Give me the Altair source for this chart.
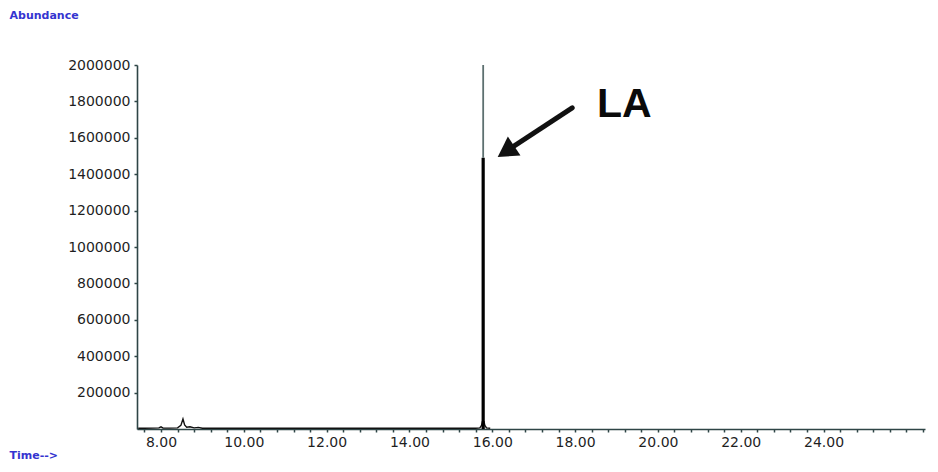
import altair as alt
import pandas as pd
import numpy as np

# Chromatogram trace (baseline + small early peaks + base of LA peak)
trace_time = [7.45, 7.6, 7.8, 7.95, 8.0, 8.05, 8.2, 8.4, 8.48, 8.53, 8.57, 8.62, 8.7, 8.8, 8.9, 9.0, 9.2,
              15.6, 15.7, 15.74, 15.76, 15.8, 15.82, 15.86, 15.95]
trace_abund = [4000, 4000, 5000, 6000, 12000, 5000, 5000, 6000, 20000, 55000, 22000, 10000, 12000, 6000, 9000, 4000, 4000,
               4000, 6000, 20000, 40000, 40000, 20000, 6000, 4000]

# LA peak (off-scale): solid body and thin overflow part
peak_time = [15.78]
peak_body = [1490000]
peak_top = [2000000]

# Annotation
label_text = ["LA"]
label_time = [18.53]
label_abund = [1714000]
arrow_from_time = [17.93]
arrow_from_abund = [1764000]
arrow_head_time = [16.33]
arrow_head_abund = [1525000]

# Axis ticks
y_ticks = [200000, 400000, 600000, 800000, 1000000, 1200000, 1400000, 1600000, 1800000, 2000000]
x_ticks = [round(v, 1) for v in np.arange(7.6, 26.41, 0.4)]

x_dom = [7.42, 26.45]
y_dom = [0, 2000000]

axis_col = "#2e4546"
lab_font = "DejaVu Sans"

x_axis = alt.Axis(values=x_ticks,
                  labelExpr="abs(datum.value - round(datum.value/2)*2) < 0.01 && datum.value <= 24.01 ? format(datum.value, '.2f') : ''",
                  title="Time-->", titleX=-128, titleY=26, titleAlign="left", titleBaseline="middle",
                  titleColor="#3434d0", titleFont=lab_font, titleFontSize=11, titleFontWeight="bold",
                  labelFont=lab_font, labelFontSize=14, labelColor="#1f1f1f", labelPadding=3,
                  domainColor=axis_col, domainWidth=1.6, tickColor=axis_col, tickSize=3, tickWidth=1.5,
                  grid=False, labelOverlap=False, labelFlush=False)
y_axis = alt.Axis(values=y_ticks, format="d",
                  title="Abundance", titleAngle=0, titleX=-128, titleY=-50, titleAlign="left", titleBaseline="middle",
                  titleColor="#3434d0", titleFont=lab_font, titleFontSize=11, titleFontWeight="bold",
                  labelFont=lab_font, labelFontSize=14, labelColor="#1f1f1f", labelPadding=4,
                  domainColor=axis_col, domainWidth=1.6, tickColor=axis_col, tickSize=3, tickWidth=1.5,
                  grid=False, labelOverlap=False)

xs = alt.Scale(domain=x_dom, nice=False, zero=False)
ys = alt.Scale(domain=y_dom, nice=False)

trace_df = pd.DataFrame({"time": trace_time, "abundance": trace_abund})
peak_df = pd.DataFrame({"time": peak_time, "body": peak_body, "top": peak_top})
label_df = pd.DataFrame({"label": label_text, "time": label_time, "abundance": label_abund})
arrow_df = pd.DataFrame({"time": arrow_from_time, "abundance": arrow_from_abund,
                         "time2": arrow_head_time, "abundance2": arrow_head_abund})

trace = alt.Chart(trace_df).mark_line(color="#111111", strokeWidth=1.4).encode(
    x=alt.X("time:Q", scale=xs, axis=x_axis),
    y=alt.Y("abundance:Q", scale=ys, axis=y_axis),
)

peak_thin = alt.Chart(peak_df).mark_rule(color="#5d7070", strokeWidth=1.8).encode(
    x=alt.X("time:Q", scale=xs, axis=x_axis),
    y=alt.Y("body:Q", scale=ys, axis=y_axis),
    y2="top:Q",
)
peak_thick = alt.Chart(peak_df).mark_rule(color="#000000", strokeWidth=3.2).encode(
    x=alt.X("time:Q", scale=xs, axis=x_axis),
    y=alt.Y("body:Q", scale=ys, axis=y_axis),
    y2=alt.datum(0),
)

shaft = alt.Chart(arrow_df).mark_rule(color="#111111", strokeWidth=5, strokeCap="round").encode(
    x=alt.X("time:Q", scale=xs, axis=x_axis),
    y=alt.Y("abundance:Q", scale=ys, axis=y_axis),
    x2="time2:Q",
    y2="abundance2:Q",
)
head = alt.Chart(arrow_df).mark_point(shape="triangle-up", filled=True, color="#111111",
                                      size=520, angle=236.5, opacity=1).encode(
    x=alt.X("time2:Q", scale=xs, axis=x_axis),
    y=alt.Y("abundance2:Q", scale=ys, axis=y_axis),
)

label = alt.Chart(label_df).mark_text(font="Liberation Sans", fontSize=41, fontWeight="bold",
                                      align="left", baseline="alphabetic", color="#0a0a0a").encode(
    x=alt.X("time:Q", scale=xs, axis=x_axis),
    y=alt.Y("abundance:Q", scale=ys, axis=y_axis),
    text="label:N",
)

chart = alt.layer(trace, peak_thick, peak_thin, shaft, head, label).properties(
    width=788, height=364,
    autosize=alt.AutoSizeParams(type="none"),
    padding={"left": 129, "top": 57, "right": 5, "bottom": 35},
    background="white",
).configure_view(stroke=None)

chart.save("out.html", embed_options={"renderer": "svg", "actions": False})
